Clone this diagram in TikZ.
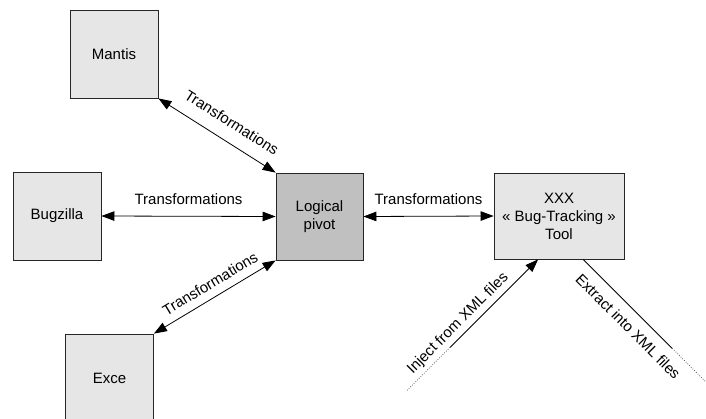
\documentclass[tikz,border=0pt]{standalone}
\usepackage{fontspec}
\setmainfont{Liberation Sans}
\usetikzlibrary{arrows.meta,calc}
\definecolor{boxgray}{HTML}{E6E6E6}
\definecolor{pivotgray}{HTML}{C0C0C0}
\begin{document}
\begin{tikzpicture}[x=1pt,y=-1pt,
  box/.style={draw=black!85, line width=0.8pt, fill=boxgray, minimum width=88pt, minimum height=88pt, inner sep=0pt, align=center, font=\fontsize{15}{18}\selectfont},
  conn/.style={line width=0.8pt, {Triangle[length=13pt,width=9.5pt]}-{Triangle[length=13pt,width=9.5pt]}},
  oneway/.style={line width=0.8pt, -{Triangle[length=13pt,width=9.5pt]}},
  plain/.style={line width=0.8pt},
  dots/.style={line width=0.7pt, dash pattern=on 0.8pt off 1.6pt, black!70},
  lab/.style={font=\fontsize{15}{18}\selectfont, sloped, inner sep=3pt}
]
\clip (0,0) rectangle (706,418);
\fill[white] (0,0) rectangle (706,418);

\node[box] (mantis) at (114,54) {Mantis};
\node[box] (bugzilla) at (57,216) {Bugzilla};
\node[box, fill=pivotgray, minimum width=87pt, minimum height=87pt] (pivot) at (319.5,216.5) {Logical\\pivot};
\node[box] (exce) at (109.5,378) {Exce};
\node[box, minimum width=130pt, minimum height=86pt] (tool) at (559,216) {XXX\\« Bug-Tracking »\\Tool};

\draw[conn] (mantis.south east) -- node[lab, above=10pt, pos=0.54]{Transformations} (pivot.north west);
\draw[conn] (bugzilla.east) -- node[lab, above=8pt]{Transformations} (pivot.west);
\draw[conn] (exce.north east) -- node[lab, above=5pt, pos=0.52]{Transformations} (pivot.south west);
\draw[conn] (pivot.east) -- node[lab, above=8pt]{Transformations} (tool.west);

\coordinate (injTip) at ($(tool.south west)!0.34!(tool.south east)$);
\coordinate (injMid) at ($(injTip)+(-88,88)$);
\coordinate (injEnd) at ($(injTip)+(-131,131)$);
\draw[dots] (injEnd) -- (injMid);
\draw[oneway] (injMid) -- (injTip);
\path (injEnd) -- node[lab, above=1pt, pos=0.45]{Inject from XML files} (injTip);

\coordinate (extStart) at ($(tool.south west)!0.685!(tool.south east)$);
\coordinate (extMid) at ($(extStart)+(89,89)$);
\coordinate (extEnd) at ($(extStart)+(122,122)$);
\draw[plain] (extStart) -- (extMid);
\draw[dots] (extMid) -- (extEnd);
\path (extStart) -- node[lab, below=7pt, pos=0.46]{Extract into XML files} (extEnd);
\end{tikzpicture}
\end{document}
